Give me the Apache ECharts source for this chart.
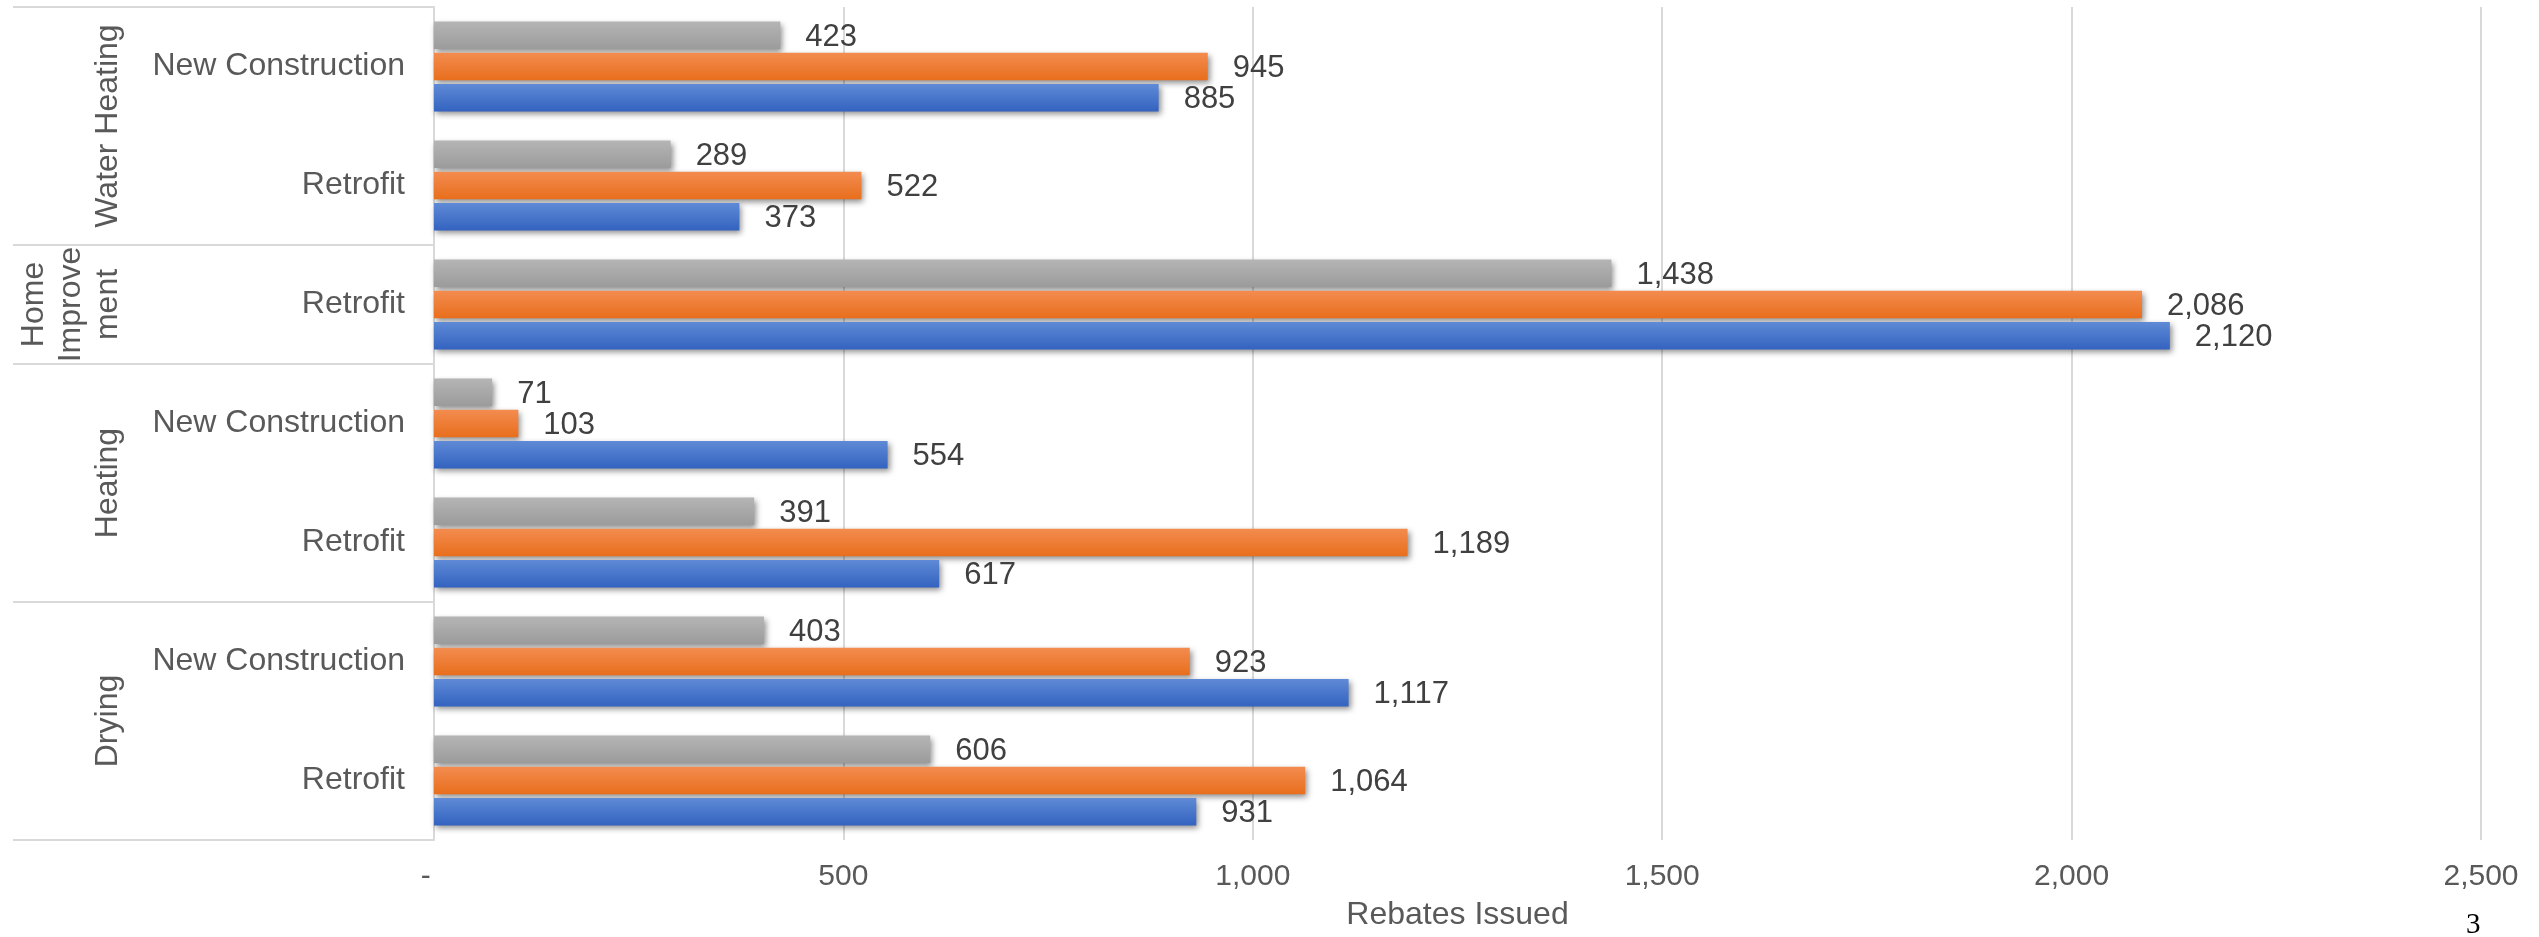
<!DOCTYPE html>
<html>
<head>
<meta charset="utf-8">
<script src="https://cdn.jsdelivr.net/npm/echarts@6/dist/echarts.min.js"></script>
<style>
html,body{margin:0;padding:0;background:#fff;}
#chart{width:2539px;height:937px;}
</style>
</head>
<body>
<div id="chart"></div>
<script>
// Categories listed bottom to top (as the axis draws them)
const groups  = ['Drying','Drying','Heating','Heating','Home Improvement','Water Heating','Water Heating'];
const subcats = ['Retrofit','New Construction','Retrofit','New Construction','Retrofit','Retrofit','New Construction'];
const groupLabelText = {'Drying':'Drying','Heating':'Heating','Home Improvement':'Home\nImprove\nment','Water Heating':'Water Heating'};

// Series values (bottom to top order of categories)
const seriesBlue   = [931, 1117, 617, 554, 2120, 373, 885];
const seriesOrange = [1064, 923, 1189, 103, 2086, 522, 945];
const seriesGray   = [606, 403, 391, 71, 1438, 289, 423];

const xTicks = [0, 500, 1000, 1500, 2000, 2500];
const axisTitle = 'Rebates Issued';

const categories = groups.map((g, i) => g + '|' + subcats[i]);

// group boundaries and centers derived from the groups array
const boundaries = [0];
const centers = [];
const centerName = {};
let start = 0;
for (let i = 1; i <= groups.length; i++) {
  if (i === groups.length || groups[i] !== groups[start]) {
    boundaries.push(i);
    const c = (start + i) / 2;
    centers.push(c);
    centerName[c] = groups[start];
    start = i;
  }
}

const FONT = 'Liberation Sans, Arial, sans-serif';
const fmt = v => Number(v).toLocaleString('en-US');

function grad(top, bottom) {
  return new echarts.graphic.LinearGradient(0, 0, 0, 1, [
    {offset: 0, color: top}, {offset: 1, color: bottom}
  ]);
}

function barSeries(name, data, top, bottom) {
  return {
    name: name,
    type: 'bar',
    data: data,
    barCategoryGap: '24.4%',
    barGap: '13%',
    itemStyle: {
      color: grad(top, bottom),
      shadowColor: 'rgba(0,0,0,0.45)',
      shadowBlur: 6,
      shadowOffsetX: 2,
      shadowOffsetY: 3
    },
    label: {
      show: true,
      position: 'right',
      distance: 25,
      offset: [0, 2],
      fontFamily: FONT,
      fontSize: 31,
      color: '#404040',
      formatter: p => fmt(p.value)
    }
  };
}

const chart = echarts.init(document.getElementById('chart'), null, {renderer: 'canvas'});
chart.setOption({
  animation: false,
  backgroundColor: '#ffffff',
  grid: {left: 434, right: 58, top: 7, bottom: 97, containLabel: false},
  xAxis: {
    type: 'value',
    min: xTicks[0],
    max: xTicks[xTicks.length - 1],
    interval: xTicks[1] - xTicks[0],
    name: axisTitle,
    nameLocation: 'middle',
    nameGap: 59,
    nameTextStyle: {fontFamily: FONT, fontSize: 32, color: '#595959'},
    axisLine: {show: false},
    axisTick: {show: false},
    splitLine: {show: true, lineStyle: {color: '#d9d9d9', width: 2}},
    axisLabel: {
      margin: 22,
      fontFamily: FONT,
      fontSize: 30,
      color: '#595959',
      formatter: v => v === 0 ? '-  ' : fmt(v)
    }
  },
  yAxis: [
    {
      type: 'category',
      data: categories,
      position: 'left',
      axisLine: {show: true, lineStyle: {color: '#d9d9d9', width: 2}},
      axisTick: {show: false},
      axisLabel: {
        margin: 29,
        fontFamily: FONT,
        fontSize: 32,
        color: '#595959',
        formatter: v => v.split('|')[1]
      }
    },
    {
      type: 'value',
      min: 0,
      max: groups.length,
      position: 'left',
      offset: 0,
      axisLine: {show: false},
      splitLine: {show: false},
      axisTick: {
        show: true,
        customValues: boundaries,
        length: 421,
        lineStyle: {color: '#d9d9d9', width: 2}
      },
      axisLabel: {
        show: true,
        customValues: centers,
        rotate: 90,
        margin: 307,
        fontFamily: FONT,
        fontSize: 32,
        lineHeight: 37,
        color: '#595959',
        formatter: v => groupLabelText[centerName[v]] || ''
      }
    }
  ],
  series: [
    barSeries('Series 3', seriesGray, '#b5b5b5', '#9b9b9b'),
    barSeries('Series 2', seriesOrange, '#f38c50', '#e86e1c'),
    barSeries('Series 1', seriesBlue, '#5f8ad6', '#3363c0')
  ],
  graphic: [{
    type: 'text',
    left: 2466,
    top: 911,
    style: {text: '3', font: '29px "Liberation Serif", serif', fill: '#000000'}
  }]
});
</script>
</body>
</html>
